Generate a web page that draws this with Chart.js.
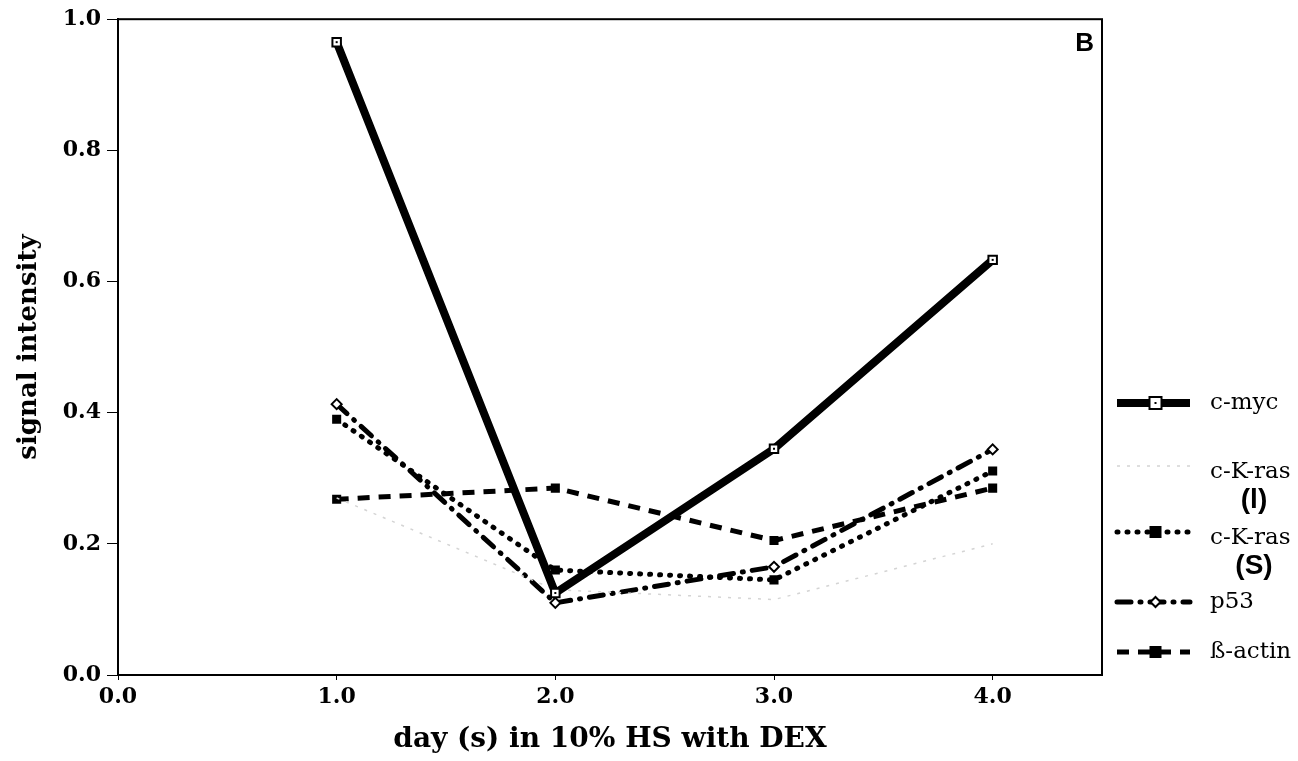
<!DOCTYPE html>
<html>
<head>
<meta charset="utf-8">
<title>signal intensity - B</title>
<script src="https://cdn.jsdelivr.net/npm/chart.js@4"></script>
<style>
    html, body { margin: 0; padding: 0; background: #fff; }
    #wrap { width: 1298px; height: 761px; position: relative; }
</style>
</head>
<body>
<div id="wrap"><canvas id="chart" width="1298" height="761"></canvas></div>
<script>
// Data
const days = [1, 2, 3, 4];
const xTicks = [0, 1, 2, 3, 4];
const cMyc = [0.965, 0.125, 0.345, 0.633];
const cKrasL = [0.27, 0.13, 0.115, 0.20];
const cKrasS = [0.39, 0.16, 0.145, 0.311];
const p53 = [0.413, 0.11, 0.165, 0.344];
const bActin = [0.268, 0.285, 0.205, 0.285];

const serif = '"DejaVu Serif", "Liberation Serif", serif';

function toPoints(values) {
    return days.map((d, i) => ({ x: d, y: values[i] }));
}

// series styles (also used by the legend)
const series = [
    { label: 'c-myc', data: cMyc, width: 8, dash: [], color: '#000',
      point: 'rect', radius: 6, fill: '#fff', cap: 'butt', centerDot: true },
    { label: 'c-K-ras (l)', data: cKrasL, width: 1.5, dash: [3, 7], color: '#d4d4d4',
      point: false, radius: 0, fill: '#d4d4d4', cap: 'butt' },
    { label: 'c-K-ras (S)', data: cKrasS, width: 5, dash: [1, 9], color: '#000',
      point: 'rect', radius: 5, fill: '#000', cap: 'round' },
    { label: 'p53', data: p53, width: 5, dash: [14, 9, 1, 9], color: '#000',
      point: 'rectRot', radius: 5, fill: '#fff', cap: 'round' },
    { label: 'ß-actin', data: bActin, width: 5, dash: [12, 9], color: '#000',
      point: 'rect', radius: 5, fill: '#000', cap: 'butt' }
];

// frame around the plot, the "B" and the small dots inside the c-myc squares
const framePlugin = {
    id: 'frame',
    beforeDatasetsDraw(chart) {
        const { ctx, chartArea: a } = chart;
        ctx.save();
        ctx.strokeStyle = '#000';
        ctx.lineWidth = 2;
        ctx.strokeRect(a.left, a.top, a.right - a.left, a.bottom - a.top);
        ctx.fillStyle = '#000';
        ctx.font = 'bold 26px "Liberation Sans", Arial, sans-serif';
        ctx.textAlign = 'right';
        ctx.textBaseline = 'top';
        ctx.fillText('B', a.right - 8, a.top + 12);
        ctx.restore();
    },
    afterDatasetsDraw(chart) {
        const { ctx } = chart;
        chart.data.datasets.forEach((ds, i) => {
            if (!series[i].centerDot) return;
            chart.getDatasetMeta(i).data.forEach(pt => {
                ctx.fillStyle = '#000';
                ctx.fillRect(pt.x - 1, pt.y - 1, 2, 2);
            });
        });
    }
};

// legend to the right of the frame
const legendPlugin = {
    id: 'sideLegend',
    afterDraw(chart) {
        const { ctx, chartArea: a } = chart;
        const x0 = a.right + 15, x1 = a.right + 88, xt = a.right + 108;
        const rows = [
            { s: 0, y: 403, text: ['c-myc'] },
            { s: 1, y: 466, text: ['c-K-ras', '(l)'] },
            { s: 2, y: 532, text: ['c-K-ras', '(S)'] },
            { s: 3, y: 602, text: ['p53'] },
            { s: 4, y: 652, text: ['ß-actin'] }
        ];
        ctx.save();
        rows.forEach(r => {
            const s = series[r.s];
            ctx.strokeStyle = s.color;
            ctx.lineWidth = s.width;
            ctx.lineCap = s.cap;
            ctx.setLineDash(s.dash);
            ctx.beginPath();
            ctx.moveTo(x0, r.y);
            ctx.lineTo(x1, r.y);
            ctx.stroke();
            ctx.setLineDash([]);
            const mx = (x0 + x1) / 2 + 2;
            if (s.point) {
                ctx.lineWidth = 2;
                ctx.strokeStyle = '#000';
                ctx.fillStyle = s.fill;
                ctx.beginPath();
                if (s.point === 'rectRot') {
                    ctx.moveTo(mx, r.y - s.radius);
                    ctx.lineTo(mx + s.radius, r.y);
                    ctx.lineTo(mx, r.y + s.radius);
                    ctx.lineTo(mx - s.radius, r.y);
                    ctx.closePath();
                } else {
                    ctx.rect(mx - s.radius, r.y - s.radius, s.radius * 2, s.radius * 2);
                }
                ctx.fill();
                ctx.stroke();
                if (s.centerDot) {
                    ctx.fillStyle = '#000';
                    ctx.fillRect(mx - 1, r.y - 1, 2, 2);
                }
            }
            ctx.fillStyle = '#000';
            ctx.font = '23px ' + serif;
            ctx.textAlign = 'left';
            ctx.textBaseline = 'middle';
            ctx.fillText(r.text[0], xt, r.y + (r.text[1] ? 6 : 0));
            if (r.text[1]) {
                ctx.font = 'bold 28px "Liberation Sans", Arial, sans-serif';
                ctx.textAlign = 'center';
                ctx.fillText(r.text[1], xt + 44, r.y + 34);
            }
        });
        ctx.restore();
    }
};

new Chart(document.getElementById('chart'), {
    type: 'line',
    data: {
        datasets: series.map(s => ({
            label: s.label,
            data: toPoints(s.data),
            borderColor: s.color,
            borderWidth: s.width,
            borderDash: s.dash,
            borderCapStyle: s.cap,
            pointStyle: s.point,
            pointRadius: s.radius,
            pointBackgroundColor: s.fill,
            pointBorderColor: '#000',
            pointBorderWidth: 2,
            tension: 0,
            fill: false
        }))
    },
    options: {
        responsive: false,
        animation: false,
        layout: { padding: { top: 16, right: 196, left: 0, bottom: 0 } },
        plugins: {
            legend: { display: false },
            tooltip: { enabled: false }
        },
        scales: {
            x: {
                type: 'linear',
                min: 0,
                max: 4.5,
                afterBuildTicks: s => { s.ticks = xTicks.map(v => ({ value: v })); },
                afterFit: s => { s.height = 86; },
                grid: { drawOnChartArea: false, drawTicks: true, tickLength: 5, color: '#000' },
                border: { color: '#000', width: 2 },
                ticks: {
                    color: '#000',
                    font: { family: serif, size: 22, weight: 'bold' },
                    padding: 4,
                    maxRotation: 0,
                    callback: v => Number(v).toFixed(1)
                },
                title: {
                    display: true,
                    text: 'day (s) in 10% HS with DEX',
                    color: '#000',
                    font: { family: serif, size: 28, weight: 'bold' },
                    padding: { top: 2 }
                }
            },
            y: {
                min: 0,
                max: 1,
                afterFit: s => { s.width = 118; },
                grid: { drawOnChartArea: false, drawTicks: true, tickLength: 11, color: '#000' },
                border: { color: '#000', width: 2 },
                ticks: {
                    stepSize: 0.2,
                    color: '#000',
                    font: { family: serif, size: 22, weight: 'bold' },
                    padding: 6,
                    callback: v => Number(v).toFixed(1)
                },
                title: {
                    display: true,
                    text: 'signal intensity',
                    color: '#000',
                    font: { family: serif, size: 26, weight: 'bold' },
                    padding: { top: 14, bottom: 0 }
                }
            }
        }
    },
    plugins: [framePlugin, legendPlugin]
});
</script>
</body>
</html>
